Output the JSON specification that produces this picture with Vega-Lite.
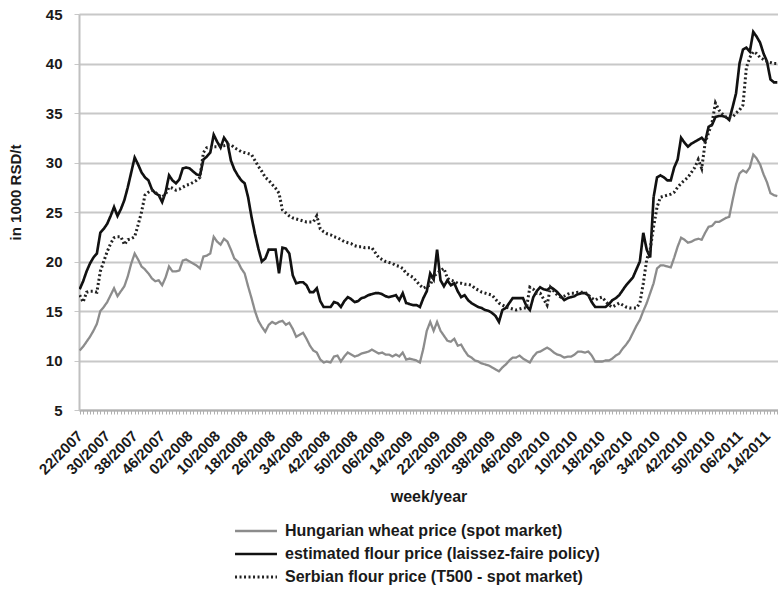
{
"$schema": "https://vega.github.io/schema/vega-lite/v6.json",
"width": 699, "height": 396,
"autosize": {"type": "none"},
"padding": {"left": 79, "top": 14, "right": 0, "bottom": 180},
"background": "white",
"config": {
  "font": "Liberation Sans",
  "view": {"stroke": null},
  "axis": {"labelColor": "#1a1a1a", "titleColor": "#1a1a1a", "labelFontWeight": "bold", "titleFontWeight": "bold"},
  "legend": {"orient": "none", "legendX": 169, "legendY": 509, "direction": "vertical", "symbolType": "M-4,0H4", "symbolSize": 110, "labelOffset": 21, "labelFontSize": 16, "labelFontWeight": "bold", "labelColor": "#1a1a1a", "labelLimit": 500, "rowPadding": 7, "padding": 0}
},
"data": {"values": [
{"w":"22/2007","h":11.0,"e":17.2,"s":16.6},
{"w":"23/2007","h":11.4,"e":18.0,"s":15.9},
{"w":"24/2007","h":11.9,"e":19.0,"s":16.9},
{"w":"25/2007","h":12.4,"e":19.8,"s":17.0},
{"w":"26/2007","h":13.0,"e":20.4,"s":17.0},
{"w":"27/2007","h":13.7,"e":20.8,"s":16.9},
{"w":"28/2007","h":15.0,"e":22.9,"s":19.0},
{"w":"29/2007","h":15.4,"e":23.3,"s":20.0},
{"w":"30/2007","h":15.9,"e":23.8,"s":21.0},
{"w":"31/2007","h":16.6,"e":24.6,"s":21.8},
{"w":"32/2007","h":17.3,"e":25.5,"s":22.4},
{"w":"33/2007","h":16.5,"e":24.6,"s":22.5},
{"w":"34/2007","h":17.0,"e":25.3,"s":22.5},
{"w":"35/2007","h":17.5,"e":26.2,"s":21.7},
{"w":"36/2007","h":18.5,"e":27.5,"s":22.2},
{"w":"37/2007","h":19.8,"e":29.0,"s":22.3},
{"w":"38/2007","h":20.8,"e":30.5,"s":22.5},
{"w":"39/2007","h":20.2,"e":29.8,"s":23.7},
{"w":"40/2007","h":19.5,"e":29.0,"s":25.0},
{"w":"41/2007","h":19.2,"e":28.5,"s":26.7},
{"w":"42/2007","h":18.8,"e":28.2,"s":27.0},
{"w":"43/2007","h":18.3,"e":27.3,"s":27.2},
{"w":"44/2007","h":18.0,"e":26.9,"s":27.0},
{"w":"45/2007","h":18.1,"e":26.7,"s":26.7},
{"w":"46/2007","h":17.6,"e":26.0,"s":26.5},
{"w":"47/2007","h":18.4,"e":27.0,"s":26.8},
{"w":"48/2007","h":19.5,"e":28.7,"s":27.5},
{"w":"49/2007","h":19.0,"e":28.2,"s":27.4},
{"w":"50/2007","h":19.0,"e":27.9,"s":27.2},
{"w":"51/2007","h":19.1,"e":28.3,"s":27.3},
{"w":"52/2007","h":20.1,"e":29.4,"s":27.5},
{"w":"01/2008","h":20.2,"e":29.5,"s":27.7},
{"w":"02/2008","h":20.0,"e":29.4,"s":27.8},
{"w":"03/2008","h":19.8,"e":29.1,"s":28.0},
{"w":"04/2008","h":19.6,"e":28.8,"s":28.2},
{"w":"05/2008","h":19.3,"e":28.7,"s":28.5},
{"w":"06/2008","h":20.5,"e":30.3,"s":31.0},
{"w":"07/2008","h":20.6,"e":30.6,"s":31.5},
{"w":"08/2008","h":20.8,"e":31.0,"s":31.5},
{"w":"09/2008","h":22.5,"e":32.8,"s":31.6},
{"w":"10/2008","h":22.0,"e":32.1,"s":31.6},
{"w":"11/2008","h":21.7,"e":31.5,"s":31.7},
{"w":"12/2008","h":22.3,"e":32.5,"s":31.7},
{"w":"13/2008","h":22.0,"e":32.0,"s":31.8},
{"w":"14/2008","h":21.2,"e":30.2,"s":31.8},
{"w":"15/2008","h":20.3,"e":29.3,"s":31.5},
{"w":"16/2008","h":20.0,"e":28.7,"s":31.3},
{"w":"17/2008","h":19.3,"e":28.2,"s":31.1},
{"w":"18/2008","h":18.8,"e":27.9,"s":31.0},
{"w":"19/2008","h":17.5,"e":26.5,"s":30.9},
{"w":"20/2008","h":16.3,"e":24.5,"s":30.8},
{"w":"21/2008","h":15.0,"e":22.8,"s":30.2},
{"w":"22/2008","h":14.0,"e":21.3,"s":29.6},
{"w":"23/2008","h":13.4,"e":20.0,"s":29.1},
{"w":"24/2008","h":12.9,"e":20.3,"s":28.5},
{"w":"25/2008","h":13.6,"e":21.2,"s":28.2},
{"w":"26/2008","h":13.9,"e":21.2,"s":27.8},
{"w":"27/2008","h":13.7,"e":21.2,"s":27.4},
{"w":"28/2008","h":13.9,"e":18.8,"s":26.9},
{"w":"29/2008","h":14.0,"e":21.4,"s":25.2},
{"w":"30/2008","h":13.6,"e":21.3,"s":24.9},
{"w":"31/2008","h":13.8,"e":20.8,"s":24.6},
{"w":"32/2008","h":13.2,"e":18.6,"s":24.4},
{"w":"33/2008","h":12.4,"e":17.8,"s":24.3},
{"w":"34/2008","h":12.6,"e":17.9,"s":24.2},
{"w":"35/2008","h":12.8,"e":17.9,"s":24.1},
{"w":"36/2008","h":12.2,"e":17.6,"s":24.0},
{"w":"37/2008","h":11.5,"e":16.9,"s":24.0},
{"w":"38/2008","h":11.0,"e":16.9,"s":24.0},
{"w":"39/2008","h":10.8,"e":17.3,"s":24.6},
{"w":"40/2008","h":10.1,"e":16.0,"s":23.3},
{"w":"41/2008","h":9.8,"e":15.4,"s":23.0},
{"w":"42/2008","h":9.9,"e":15.4,"s":22.8},
{"w":"43/2008","h":9.8,"e":15.4,"s":22.7},
{"w":"44/2008","h":10.4,"e":15.9,"s":22.5},
{"w":"45/2008","h":10.5,"e":15.8,"s":22.4},
{"w":"46/2008","h":9.9,"e":15.4,"s":22.2},
{"w":"47/2008","h":10.4,"e":16.0,"s":22.0},
{"w":"48/2008","h":10.8,"e":16.4,"s":21.9},
{"w":"49/2008","h":10.6,"e":16.2,"s":21.8},
{"w":"50/2008","h":10.4,"e":15.9,"s":21.6},
{"w":"51/2008","h":10.5,"e":16.0,"s":21.5},
{"w":"52/2008","h":10.7,"e":16.3,"s":21.5},
{"w":"01/2009","h":10.8,"e":16.4,"s":21.4},
{"w":"02/2009","h":10.9,"e":16.6,"s":21.4},
{"w":"03/2009","h":11.1,"e":16.7,"s":21.4},
{"w":"04/2009","h":10.9,"e":16.8,"s":20.9},
{"w":"05/2009","h":10.7,"e":16.8,"s":20.4},
{"w":"06/2009","h":10.8,"e":16.7,"s":20.2},
{"w":"07/2009","h":10.6,"e":16.5,"s":20.0},
{"w":"08/2009","h":10.6,"e":16.4,"s":19.9},
{"w":"09/2009","h":10.4,"e":16.5,"s":19.8},
{"w":"10/2009","h":10.6,"e":16.6,"s":19.6},
{"w":"11/2009","h":10.4,"e":16.1,"s":19.5},
{"w":"12/2009","h":10.8,"e":16.8,"s":19.3},
{"w":"13/2009","h":10.1,"e":15.8,"s":18.8},
{"w":"14/2009","h":10.2,"e":15.7,"s":18.6},
{"w":"15/2009","h":10.1,"e":15.6,"s":18.4},
{"w":"16/2009","h":10.0,"e":15.6,"s":18.0},
{"w":"17/2009","h":9.8,"e":15.4,"s":17.6},
{"w":"18/2009","h":11.2,"e":16.3,"s":17.3},
{"w":"19/2009","h":13.0,"e":17.0,"s":17.5},
{"w":"20/2009","h":13.9,"e":18.8,"s":17.6},
{"w":"21/2009","h":13.0,"e":18.2,"s":18.5},
{"w":"22/2009","h":13.9,"e":21.2,"s":18.8},
{"w":"23/2009","h":13.0,"e":18.1,"s":19.1},
{"w":"24/2009","h":12.5,"e":17.5,"s":19.3},
{"w":"25/2009","h":12.0,"e":18.1,"s":18.3},
{"w":"26/2009","h":11.9,"e":17.6,"s":18.1},
{"w":"27/2009","h":12.2,"e":17.8,"s":18.0},
{"w":"28/2009","h":11.5,"e":17.0,"s":17.8},
{"w":"29/2009","h":11.6,"e":16.4,"s":17.8},
{"w":"30/2009","h":11.0,"e":16.6,"s":17.7},
{"w":"31/2009","h":10.5,"e":16.1,"s":17.7},
{"w":"32/2009","h":10.3,"e":15.8,"s":17.6},
{"w":"33/2009","h":10.0,"e":15.6,"s":17.3},
{"w":"34/2009","h":9.9,"e":15.4,"s":17.1},
{"w":"35/2009","h":9.7,"e":15.3,"s":16.9},
{"w":"36/2009","h":9.6,"e":15.1,"s":16.8},
{"w":"37/2009","h":9.5,"e":15.0,"s":16.7},
{"w":"38/2009","h":9.3,"e":14.8,"s":16.6},
{"w":"39/2009","h":9.1,"e":14.5,"s":16.2},
{"w":"40/2009","h":8.9,"e":13.9,"s":15.8},
{"w":"41/2009","h":9.3,"e":15.1,"s":15.6},
{"w":"42/2009","h":9.6,"e":15.3,"s":15.4},
{"w":"43/2009","h":10.0,"e":15.8,"s":15.3},
{"w":"44/2009","h":10.3,"e":16.3,"s":15.2},
{"w":"45/2009","h":10.3,"e":16.3,"s":15.1},
{"w":"46/2009","h":10.5,"e":16.3,"s":15.2},
{"w":"47/2009","h":10.2,"e":16.3,"s":15.3},
{"w":"48/2009","h":10.0,"e":15.5,"s":15.3},
{"w":"49/2009","h":9.8,"e":15.1,"s":17.4},
{"w":"50/2009","h":10.4,"e":16.4,"s":17.2},
{"w":"51/2009","h":10.8,"e":17.0,"s":16.8},
{"w":"52/2009","h":10.9,"e":17.4,"s":16.8},
{"w":"01/2010","h":11.1,"e":17.2,"s":16.2},
{"w":"02/2010","h":11.3,"e":17.1,"s":15.6},
{"w":"03/2010","h":11.1,"e":17.4,"s":17.4},
{"w":"04/2010","h":10.8,"e":17.2,"s":17.0},
{"w":"05/2010","h":10.6,"e":16.9,"s":16.6},
{"w":"06/2010","h":10.5,"e":16.5,"s":16.4},
{"w":"07/2010","h":10.3,"e":16.1,"s":16.5},
{"w":"08/2010","h":10.4,"e":16.3,"s":16.7},
{"w":"09/2010","h":10.4,"e":16.4,"s":16.8},
{"w":"10/2010","h":10.6,"e":16.5,"s":16.8},
{"w":"11/2010","h":10.9,"e":16.7,"s":16.9},
{"w":"12/2010","h":10.9,"e":16.8,"s":16.9},
{"w":"13/2010","h":10.8,"e":16.8,"s":16.9},
{"w":"14/2010","h":10.9,"e":16.6,"s":16.6},
{"w":"15/2010","h":10.5,"e":15.9,"s":16.3},
{"w":"16/2010","h":9.9,"e":15.4,"s":16.1},
{"w":"17/2010","h":9.9,"e":15.4,"s":16.3},
{"w":"18/2010","h":9.9,"e":15.4,"s":16.4},
{"w":"19/2010","h":10.0,"e":15.4,"s":16.0},
{"w":"20/2010","h":10.0,"e":15.7,"s":15.6},
{"w":"21/2010","h":10.2,"e":16.1,"s":15.4},
{"w":"22/2010","h":10.5,"e":16.3,"s":15.6},
{"w":"23/2010","h":10.7,"e":16.6,"s":15.8},
{"w":"24/2010","h":11.2,"e":17.1,"s":15.6},
{"w":"25/2010","h":11.6,"e":17.6,"s":15.4},
{"w":"26/2010","h":12.1,"e":18.0,"s":15.3},
{"w":"27/2010","h":12.8,"e":18.4,"s":15.3},
{"w":"28/2010","h":13.5,"e":19.2,"s":15.3},
{"w":"29/2010","h":14.1,"e":20.0,"s":15.8},
{"w":"30/2010","h":15.0,"e":22.9,"s":17.8},
{"w":"31/2010","h":15.8,"e":21.2,"s":20.2},
{"w":"32/2010","h":16.8,"e":20.4,"s":21.2},
{"w":"33/2010","h":17.8,"e":26.5,"s":23.5},
{"w":"34/2010","h":19.3,"e":28.5,"s":25.5},
{"w":"35/2010","h":19.6,"e":28.7,"s":26.5},
{"w":"36/2010","h":19.6,"e":28.5,"s":26.6},
{"w":"37/2010","h":19.5,"e":28.2,"s":26.7},
{"w":"38/2010","h":19.4,"e":28.2,"s":26.8},
{"w":"39/2010","h":20.4,"e":29.5,"s":27.0},
{"w":"40/2010","h":21.5,"e":30.3,"s":27.5},
{"w":"41/2010","h":22.4,"e":32.5,"s":27.9},
{"w":"42/2010","h":22.2,"e":32.0,"s":28.2},
{"w":"43/2010","h":21.9,"e":31.6,"s":28.5},
{"w":"44/2010","h":22.0,"e":31.9,"s":29.0},
{"w":"45/2010","h":22.2,"e":32.1,"s":29.5},
{"w":"46/2010","h":22.3,"e":32.3,"s":30.3},
{"w":"47/2010","h":22.2,"e":32.5,"s":29.4},
{"w":"48/2010","h":22.9,"e":32.1,"s":32.0},
{"w":"49/2010","h":23.5,"e":33.6,"s":33.0},
{"w":"50/2010","h":23.6,"e":33.8,"s":34.0},
{"w":"51/2010","h":24.0,"e":34.6,"s":36.0},
{"w":"52/2010","h":24.0,"e":34.7,"s":35.3},
{"w":"01/2011","h":24.2,"e":34.7,"s":34.9},
{"w":"02/2011","h":24.4,"e":34.6,"s":34.6},
{"w":"03/2011","h":24.5,"e":34.3,"s":34.6},
{"w":"04/2011","h":26.2,"e":35.6,"s":34.6},
{"w":"05/2011","h":27.8,"e":37.0,"s":35.0},
{"w":"06/2011","h":28.9,"e":40.0,"s":35.3},
{"w":"07/2011","h":29.2,"e":41.4,"s":35.8},
{"w":"08/2011","h":29.0,"e":41.6,"s":39.6},
{"w":"09/2011","h":29.5,"e":41.2,"s":40.6},
{"w":"10/2011","h":30.8,"e":43.2,"s":41.2},
{"w":"11/2011","h":30.4,"e":42.7,"s":41.0},
{"w":"12/2011","h":29.8,"e":42.1,"s":40.6},
{"w":"13/2011","h":28.8,"e":41.0,"s":40.4},
{"w":"14/2011","h":28.0,"e":40.2,"s":40.2},
{"w":"15/2011","h":26.9,"e":38.4,"s":40.1},
{"w":"16/2011","h":26.7,"e":38.1,"s":40.0},
{"w":"17/2011","h":26.6,"e":38.1,"s":40.0}
]},
"transform": [{"fold": ["h", "e", "s"], "as": ["series", "value"]}],
"mark": {"type": "line", "clip": true},
"encoding": {
  "x": {"field": "w", "type": "ordinal", "sort": null, "scale": {"type": "point", "padding": 0.2},
    "axis": {"title": "week/year", "titleFontSize": 16, "titleY": 86, "titleBaseline": "middle",
      "labelAngle": -45, "labelAlign": "right", "labelBaseline": "middle", "labelFontSize": 15, "labelPadding": 19,
      "labelOverlap": false, "labelBound": false,
      "labelExpr": "indexof(['22/2007','30/2007','38/2007','46/2007','02/2008','10/2008','18/2008','26/2008','34/2008','42/2008','50/2008','06/2009','14/2009','22/2009','30/2009','38/2009','46/2009','02/2010','10/2010','18/2010','26/2010','34/2010','42/2010','50/2010','06/2011','14/2011'], datum.value) >= 0 ? datum.value : ''",
      "tickSize": 4, "tickColor": "#b0b0b0", "domainColor": "#b0b0b0", "domainWidth": 2, "grid": false}},
  "y": {"field": "value", "type": "quantitative", "scale": {"domain": [5, 45], "nice": false, "zero": false},
    "axis": {"title": "in 1000 RSD/t", "titleFontSize": 15, "titleX": -64, "titleY": 178, "titleAngle": -90, "titleAlign": "center", "titleBaseline": "middle",
      "values": [5, 10, 15, 20, 25, 30, 35, 40, 45], "labelFontSize": 15, "labelPadding": 12,
      "tickSize": 5, "tickColor": "#c8c8c8", "domainColor": "#c0c0c0", "domainWidth": 2,
      "grid": true, "gridColor": "#c8c8c8", "gridWidth": 2}},
  "color": {"field": "series", "type": "nominal", "scale": {"domain": ["h", "e", "s"], "range": ["#8c8c8c", "#111111", "#222222"]},
    "legend": {"title": null, "labelExpr": "datum.value == 'h' ? 'Hungarian wheat price (spot market)' : datum.value == 'e' ? 'estimated flour price (laissez-faire policy)' : 'Serbian flour price (T500 - spot market)'"}},
  "strokeDash": {"field": "series", "type": "nominal", "scale": {"domain": ["h", "e", "s"], "range": [[1, 0], [1, 0], [2, 2.5]]},
    "legend": {"title": null, "labelExpr": "datum.value == 'h' ? 'Hungarian wheat price (spot market)' : datum.value == 'e' ? 'estimated flour price (laissez-faire policy)' : 'Serbian flour price (T500 - spot market)'"}},
  "strokeWidth": {"field": "series", "type": "nominal", "scale": {"domain": ["h", "e", "s"], "range": [2.3, 3, 2.2]},
    "legend": {"title": null, "labelExpr": "datum.value == 'h' ? 'Hungarian wheat price (spot market)' : datum.value == 'e' ? 'estimated flour price (laissez-faire policy)' : 'Serbian flour price (T500 - spot market)'"}},
  "order": {"value": null}
}
}
